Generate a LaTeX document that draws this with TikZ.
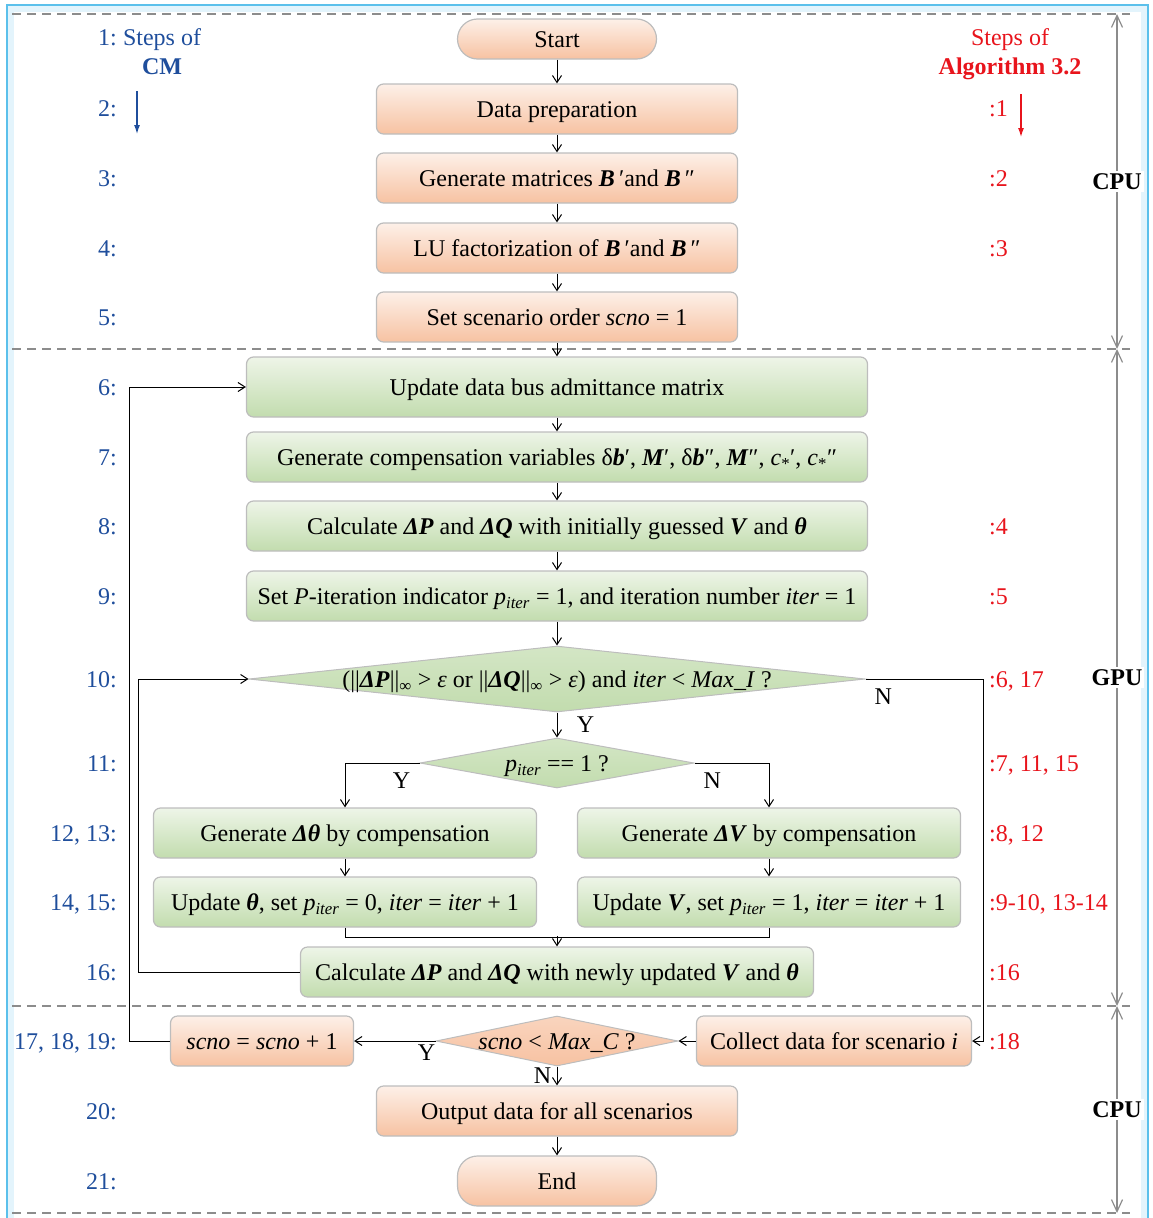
\documentclass[tikz,border=0pt]{standalone}
\usepackage{fontspec}
\setmainfont{Liberation Serif}
\usetikzlibrary{arrows.meta,calc,shapes.geometric}
\definecolor{cmblue}{HTML}{1F4E9C}
\definecolor{algred}{HTML}{E8141C}
\definecolor{boxgray}{HTML}{BDBDBD}
\definecolor{cputop}{HTML}{FDF0E8}
\definecolor{cpubot}{HTML}{F7C2A2}
\definecolor{gputop}{HTML}{EEF5E8}
\definecolor{gpubot}{HTML}{C2DCAE}
\definecolor{framecyan}{HTML}{5BC0EB}
\definecolor{frameglow}{HTML}{E3F4FC}
\definecolor{stagegray}{HTML}{8C8C8C}
\newcommand{\bvar}[1]{\textbf{\textit{#1}}}
\newcommand{\piter}{\textit{p}\textsubscript{\textit{iter}}}
\tikzset{
  cpu box/.style={draw=boxgray,line width=1.2pt,rounded corners=7pt,top color=cputop,bottom color=cpubot,minimum height=50pt,inner sep=0pt,
    text height=18pt,text depth=1pt},
  gpu box/.style={cpu box,top color=gputop,bottom color=gpubot},
  cpu pill/.style={cpu box,rounded corners=20pt},
  gpu test/.style={diamond,aspect=8,draw=boxgray,line width=1pt,top color=gputop!40!gpubot,bottom color=gpubot,
    text height=18pt,text depth=1pt,inner xsep=0pt,inner ysep=-9.5pt},
  cpu test/.style={gpu test,top color=cputop!40!cpubot,bottom color=cpubot},
  flow edge/.style={-{Straight Barb[length=7pt,width=9pt]},line width=1pt},
  flow line/.style={line width=1pt},
  cm step/.style={text=cmblue,inner sep=0pt,text height=18pt,text depth=1pt},
  alg step/.style={text=algred,inner sep=0pt,text height=18pt,text depth=1pt},
  stage line/.style={stagegray,dash pattern=on 9pt off 6pt,line width=1.2pt},
  stage span/.style={{Straight Barb[length=12pt,width=11pt]}-{Straight Barb[length=12pt,width=11pt]},stagegray,line width=1.2pt},
  stage name/.style={fill=white,text=black,inner sep=2pt,font=\fontsize{24}{29}\selectfont\bfseries},
}

\begin{document}
\begin{tikzpicture}[x=1pt,y=-1pt,font=\fontsize{24}{29}\selectfont]
  \useasboundingbox (0,0) rectangle (1152,1218);
  % frame and stages
  \draw[frameglow,line width=6pt] (11,9) rectangle (1144,1230);
  \draw[framecyan,line width=1.2pt] (7,5) rectangle (1148,1230);
  \foreach \y in {14,349,1006,1213}
    \draw[stage line] (12,\y) -- (1130,\y);
  \coordinate (cputop) at (1117,14);
  \coordinate (gputop) at (1117,349);
  \coordinate (gpubot) at (1117,1006);
  \coordinate (cpubot) at (1117,1213);
  \draw[stage span] (cputop) -- node[stage name]{CPU} (gputop);
  \draw[stage span] (gputop) -- node[stage name]{GPU} (gpubot);
  \draw[stage span] (gpubot) -- node[stage name]{CPU} (cpubot);

  % flow
  \node[cpu pill,minimum width=199pt,minimum height=40pt] (start) at (557,39) {Start};
  \node[cpu box,minimum width=361pt] (prep) at (557,109) {Data preparation};
  \node[cpu box,minimum width=361pt] (genmat) at (557,178) {Generate matrices \bvar{B}\,′and \bvar{B}\,″};
  \node[cpu box,minimum width=361pt] (lufac) at (557,248) {LU factorization of \bvar{B}\,′and \bvar{B}\,″};
  \node[cpu box,minimum width=361pt] (setscn) at (557,317) {Set scenario order \textit{scno} = 1};
  \node[gpu box,minimum width=621pt,minimum height=60pt] (update) at (557,387) {Update data bus admittance matrix};
  \node[gpu box,minimum width=621pt] (gencomp) at (557,457) {Generate compensation variables δ\bvar{b}′, \bvar{M}′, δ\bvar{b}″, \bvar{M}″, \textit{c}\textsubscript{*}′, \textit{c}\textsubscript{*}″};
  \node[gpu box,minimum width=621pt] (calcini) at (557,526) {Calculate \bvar{ΔP} and \bvar{ΔQ} with initially guessed \bvar{V} and \bvar{θ}};
  \node[gpu box,minimum width=621pt] (setp) at (557,596) {Set \textit{P}-iteration indicator \piter{} = 1, and iteration number \textit{iter} = 1};
  \node[gpu test,minimum width=616pt,minimum height=66pt] (conv) at (557,679) {(||\bvar{ΔP}||\textsubscript{∞} > \textit{ε} or ||\bvar{ΔQ}||\textsubscript{∞} > \textit{ε}) and \textit{iter} < \textit{Max\_I} ?};
  \node[gpu test,minimum width=274pt,minimum height=50pt] (ptest) at (557,763) {\piter{} == 1 ?};
  \node[gpu box,minimum width=383pt] (gtheta) at (345,833) {Generate \bvar{Δθ} by compensation};
  \node[gpu box,minimum width=383pt] (gvolt) at (769,833) {Generate \bvar{ΔV} by compensation};
  \node[gpu box,minimum width=383pt] (utheta) at (345,902) {Update \bvar{θ}, set \piter{} = 0, \textit{iter} = \textit{iter} + 1};
  \node[gpu box,minimum width=383pt] (uvolt) at (769,902) {Update \bvar{V}, set \piter{} = 1, \textit{iter} = \textit{iter} + 1};
  \node[gpu box,minimum width=513pt] (calcnew) at (557,972) {Calculate \bvar{ΔP} and \bvar{ΔQ} with newly updated \bvar{V} and \bvar{θ}};
  \node[cpu box,minimum width=183pt] (scnoinc) at (262,1041) {\textit{scno} = \textit{scno} + 1};
  \node[cpu test,minimum width=242pt,minimum height=50pt] (scnotest) at (557,1041) {\textit{scno} < \textit{Max\_C} ?};
  \node[cpu box,minimum width=275pt] (collect) at (834,1041) {Collect data for scenario \textit{i}};
  \node[cpu box,minimum width=361pt] (output) at (557,1111) {Output data for all scenarios};
  \node[cpu pill,minimum width=199pt] (stop) at (557,1181) {End};

  \foreach \a/\b in {start/prep,prep/genmat,genmat/lufac,lufac/setscn,setscn/update,update/gencomp,
      gencomp/calcini,calcini/setp,setp/conv,gtheta/utheta,gvolt/uvolt,output/stop}
    \draw[flow edge] (\a.south) -- (\b.north);
  \draw[flow edge] (conv.south) -- node[right=16pt]{Y} (ptest.north);
  \draw[flow edge] (ptest.west) -| node[below=6pt,pos=0.12]{Y} (gtheta.north);
  \draw[flow edge] (ptest.east) -| node[below=6pt,pos=0.12]{N} (gvolt.north);
  \draw[flow line] (utheta.south) -- ++(0,10) -| (uvolt.south);
  \draw[flow edge] ([yshift=10pt]calcnew.north) -- (calcnew.north);
  \draw[flow edge] (calcnew.west) -- ++(-161,0) |- (conv.west);
  \draw[flow edge] (conv.east) -- node[below=6pt,pos=0.15]{N} ++(118,0) |- (collect.east);
  \draw[flow edge] (collect.west) -- (scnotest.east);
  \draw[flow edge] (scnotest.west) -- node[below,pos=0.11]{Y} (scnoinc.east);
  \draw[flow edge] (scnotest.south) -- node[left=2pt]{N} (output.north);
  \draw[flow edge] (scnoinc.west) -- ++(-40,0) |- (update.west);

  % step numbers of CM
  \node[cm step] (cmhead) at (162,37) {Steps of};
  \node[cm step] (cmname) at (162,66) {\textbf{CM}};
  \foreach \y/\t in {37/1:,108/2:,178/3:,248/4:,317/5:,387/6:,457/7:,526/8:,596/9:,679/10:,763/11:,
      833/{12, 13:},902/{14, 15:},972/16:,1041/{17, 18, 19:},1111/20:,1181/21:}
    \node[cm step,anchor=east] (cm\y) at (117,\y) {\t};
  \coordinate (cmtail) at (137,91);
  \coordinate (cmtip) at (137,134);
  \draw[cmblue,line width=1.2pt,-{Latex[length=9pt,width=6pt]}] (cmtail) -- (cmtip);

  % step numbers of Algorithm 3.2
  \node[alg step] (alghead) at (1010,37) {Steps of};
  \node[alg step] (algname) at (1010,66) {\textbf{Algorithm 3.2}};
  \foreach \y/\t in {108/:1,178/:2,248/:3,526/:4,596/:5,679/{:6, 17},763/{:7, 11, 15},833/{:8, 12},
      902/{:9-10, 13-14},972/:16,1041/:18}
    \node[alg step,anchor=west] (alg\y) at (989,\y) {\t};
  \coordinate (algtail) at (1021,94);
  \coordinate (algtip) at (1021,137);
  \draw[algred,line width=1.2pt,-{Latex[length=9pt,width=6pt]}] (algtail) -- (algtip);
\end{tikzpicture}
\end{document}
